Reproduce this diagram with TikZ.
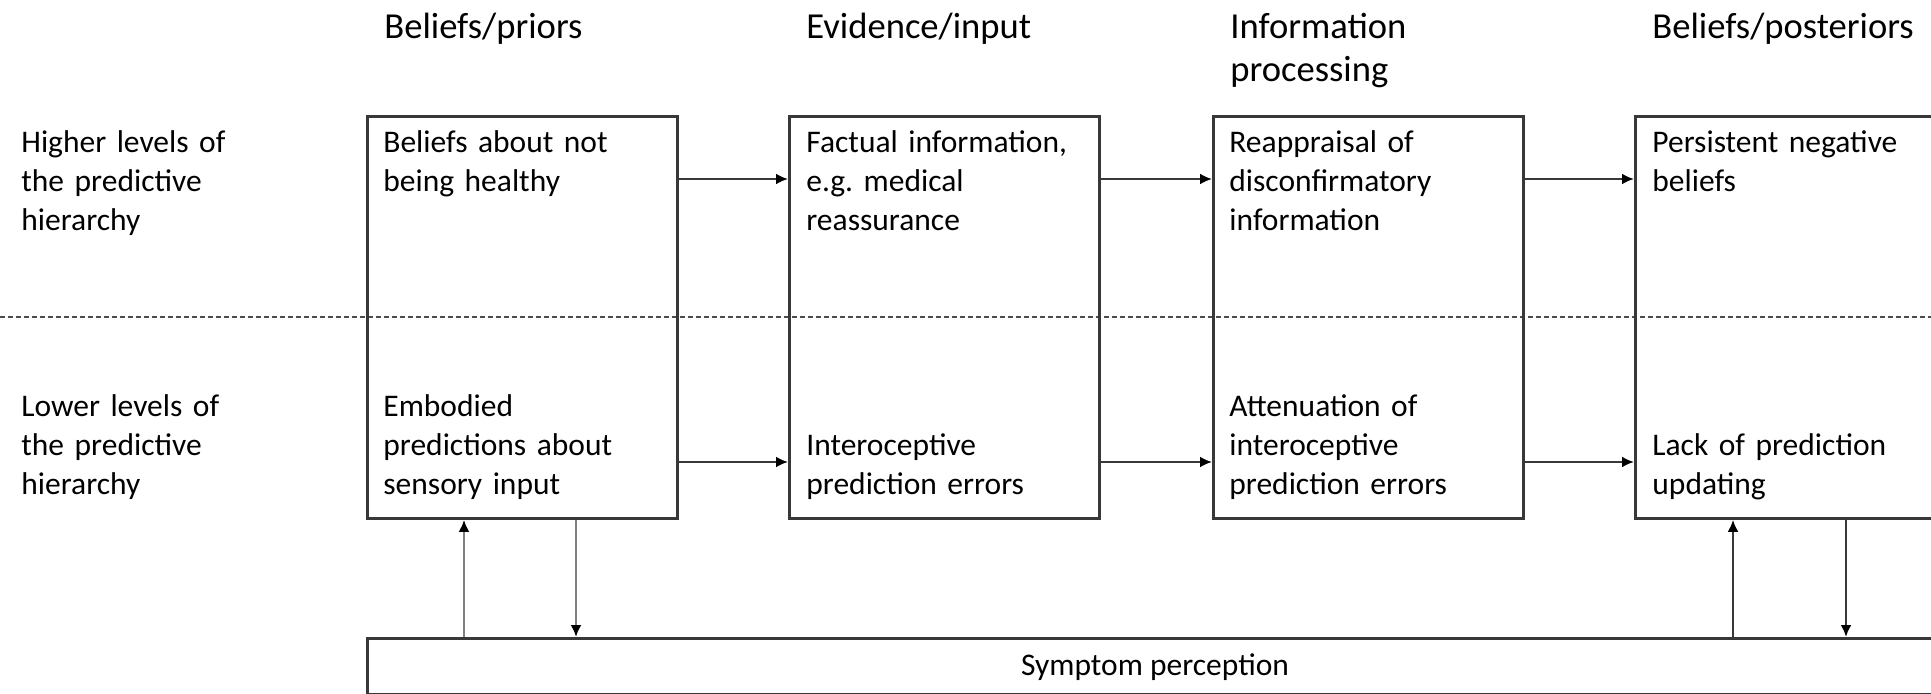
\documentclass[tikz,border=0pt]{standalone}
\usepackage{fontspec}
\setmainfont{Carlito}
\usetikzlibrary{arrows.meta}
\frenchspacing
\begin{document}
\begin{tikzpicture}[x=0.5pt,y=-0.5pt,
  stage/.style={draw=black!78,line width=1.4pt,minimum width=155pt,minimum height=201pt,
    inner sep=0pt,anchor=north west},
  bar/.style={draw=black!78,line width=1.4pt,minimum width=789pt,minimum height=28pt,
    inner sep=0pt,anchor=north west},
  body/.style={font=\fontsize{15.75}{19.5}\selectfont,text width=150pt,align=left,
    inner sep=0pt,anchor=base west},
  head/.style={font=\fontsize{18.3}{21.5}\selectfont,text width=150pt,align=left,
    inner sep=0pt,anchor=base west},
  arr/.style={draw=black!78,line width=1.2pt,
    -{Latex[length=6pt,width=5.5pt,color=black]}},
  softarr/.style={arr,draw=black!50},
  sep/.style={draw=black!70,line width=0.75pt,dash pattern=on 2.5pt off 1.5pt}
]
\useasboundingbox (0,0) rectangle (1931,694);
\clip (0,0) rectangle (1931,694);

% level divider
\coordinate (divl) at (0,317);
\coordinate (divr) at (1931,317);
\draw[sep] (divl) -- (divr);

% stage boxes
\node[stage] (b1) at (366,115) {};
\node[stage] (b2) at (788,115) {};
\node[stage] (b3) at (1212,115) {};
\node[stage] (b4) at (1634,115) {};
\node[bar] (sym) at (366,637) {};
\node[font=\fontsize{15.75}{19.5}\selectfont,anchor=base,inner sep=0pt] (symt) at (1155,675) {Symptom perception};

% column headings
\node[head] (h1) at (384,39) {Beliefs/priors};
\node[head] (h2) at (806,39) {Evidence/input};
\node[head] (h3) at (1230,39) {Information\\processing};
\node[head] (h4) at (1652,39) {Beliefs/posteriors};

% row labels
\node[body] (lhi) at (21,153) {Higher levels of\\the predictive\\hierarchy};
\node[body] (llo) at (21,417) {Lower levels of\\the predictive\\hierarchy};

% upper-level contents
\node[body] (t1) at (383,153) {Beliefs about not\\being healthy};
\node[body] (t2) at (806,153) {Factual information,\\e.g. medical\\reassurance};
\node[body] (t3) at (1229,153) {Reappraisal of\\disconfirmatory\\information};
\node[body] (t4) at (1652,153) {Persistent negative\\beliefs};

% lower-level contents
\node[body] (s1) at (383,417) {Embodied\\predictions about\\sensory input};
\node[body] (s2) at (806,456) {Interoceptive\\prediction errors};
\node[body] (s3) at (1229,417) {Attenuation of\\interoceptive\\prediction errors};
\node[body] (s4) at (1652,456) {Lack of prediction\\updating};

% horizontal flow
\coordinate (rowhi) at (0,179);
\coordinate (rowlo) at (0,462);
\draw[arr] (b1.east |- rowhi) -- (b2.west |- rowhi);
\draw[arr] (b2.east |- rowhi) -- (b3.west |- rowhi);
\draw[arr] (b3.east |- rowhi) -- (b4.west |- rowhi);
\draw[arr] (b1.east |- rowlo) -- (b2.west |- rowlo);
\draw[arr] (b2.east |- rowlo) -- (b3.west |- rowlo);
\draw[arr] (b3.east |- rowlo) -- (b4.west |- rowlo);

% exchange with symptom perception
\coordinate (u1) at (464,0);
\coordinate (d1) at (576,0);
\coordinate (u4) at (1733,0);
\coordinate (d4) at (1846,0);
\draw[softarr] (sym.north -| u1) -- (b1.south -| u1);
\draw[softarr] (b1.south -| d1) -- (sym.north -| d1);
\draw[arr] (sym.north -| u4) -- (b4.south -| u4);
\draw[arr] (b4.south -| d4) -- (sym.north -| d4);
\end{tikzpicture}
\end{document}
